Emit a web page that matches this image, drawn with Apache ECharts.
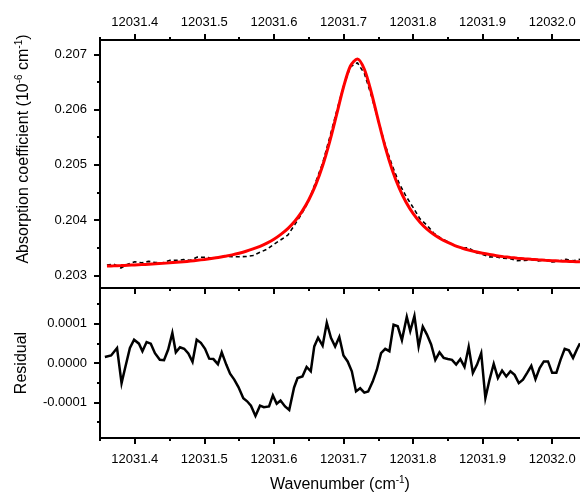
<!DOCTYPE html>
<html>
<head>
<meta charset="utf-8">
<script src="https://cdn.jsdelivr.net/npm/echarts@6/dist/echarts.min.js"></script>
<style>html,body{margin:0;padding:0;background:#fff}#c{width:580px;height:492px}</style>
</head>
<body>
<div id="c"></div>
<script>
// ---- data ----
const wavenumber = [
  12031.36,12031.37,12031.38,12031.39,12031.40,12031.41,12031.42,12031.43,12031.44,12031.45,
  12031.46,12031.47,12031.48,12031.49,12031.50,12031.51,12031.52,12031.53,12031.54,12031.55,
  12031.56,12031.57,12031.58,12031.59,12031.60,12031.61,12031.62,12031.63,12031.64,12031.65,
  12031.66,12031.67,12031.68,12031.69,12031.70,12031.71,12031.72,12031.73,12031.74,12031.75,
  12031.76,12031.77,12031.78,12031.79,12031.80,12031.81,12031.82,12031.83,12031.84,12031.85,
  12031.86,12031.87,12031.88,12031.89,12031.90,12031.91,12031.92,12031.93,12031.94,12031.95,
  12031.96,12031.97,12031.98,12031.99,12032.00,12032.01,12032.02,12032.03,12032.04
];
const fitAbs = [
  0.203167,0.203171,0.203176,0.203182,0.203188,0.203194,0.203201,0.203208,0.203216,0.203225,
  0.203235,0.203246,0.203258,0.203272,0.203287,0.203304,0.203322,0.203345,0.203370,0.203400,
  0.203435,0.203477,0.203524,0.203583,0.203652,0.203740,0.203845,0.203978,0.204148,0.204363,
  0.204637,0.204983,0.205412,0.205904,0.206404,0.206789,0.206917,0.206731,0.206311,0.205805,
  0.205322,0.204912,0.204582,0.204322,0.204120,0.203961,0.203835,0.203738,0.203658,0.203595,
  0.203539,0.203495,0.203456,0.203425,0.203398,0.203375,0.203355,0.203338,0.203323,0.203310,
  0.203299,0.203289,0.203280,0.203272,0.203265,0.203259,0.203254,0.203248,0.203243
];
const measuredAbs = [
  0.203185,0.203199,0.203131,0.203202,0.203245,0.203226,0.203252,0.203230,0.203224,0.203270,
  0.203270,0.203283,0.203271,0.203330,0.203326,0.203314,0.203322,0.203347,0.203337,0.203337,
  0.203339,0.203357,0.203416,0.203472,0.203562,0.203644,0.203727,0.203918,0.204114,0.204348,
  0.204687,0.205027,0.205487,0.205960,0.206423,0.206776,0.206847,0.206656,0.206256,0.205805,
  0.205358,0.204987,0.204667,0.204429,0.204230,0.204021,0.203907,0.203760,0.203673,0.203605,
  0.203539,0.203495,0.203497,0.203415,0.203378,0.203333,0.203330,0.203308,0.203302,0.203265,
  0.203269,0.203282,0.203260,0.203276,0.203240,0.203259,0.203289,0.203261,0.203291
];
const residualX = [
  12031.357,12031.366,12031.3745,12031.381,12031.3855,12031.393,12031.399,12031.406,12031.411,12031.417,
  12031.423,12031.429,12031.436,12031.442,12031.448,12031.454,12031.459,12031.465,12031.471,12031.477,
  12031.483,12031.489,12031.495,12031.501,12031.507,12031.513,12031.5195,12031.525,12031.5315,12031.537,
  12031.543,12031.549,12031.556,12031.5615,12031.567,12031.5735,12031.580,12031.5855,12031.593,12031.5985,
  12031.604,12031.6095,12031.616,12031.622,12031.629,12031.634,12031.641,12031.647,12031.653,12031.658,
  12031.6635,12031.670,12031.676,12031.682,12031.688,12031.694,12031.700,12031.706,12031.712,12031.718,
  12031.724,12031.730,12031.7355,12031.742,12031.748,12031.754,12031.760,12031.766,12031.772,12031.778,
  12031.784,12031.791,12031.796,12031.802,12031.808,12031.814,12031.820,12031.826,12031.832,12031.838,
  12031.844,12031.850,12031.856,12031.862,12031.868,12031.874,12031.880,12031.886,12031.892,12031.898,
  12031.904,12031.910,12031.916,12031.922,12031.928,12031.934,12031.940,12031.946,12031.952,12031.958,
  12031.964,12031.970,12031.976,12031.982,12031.988,12031.994,12032.000,12032.006,12032.012,12032.018,
  12032.024,12032.030,12032.036,12032.040
];
const residual = [
  0.000015,0.000019,0.000038,-0.000051,-0.000017,0.000038,0.000059,0.000049,0.000030,0.000053,
  0.000049,0.000025,0.000008,0.000007,0.000034,0.000076,0.000027,0.000040,0.000036,0.000024,
  0.000003,0.000059,0.000051,0.000036,0.000011,0.000010,-0.000003,0.000027,-0.000004,-0.000027,
  -0.000042,-0.000061,-0.000089,-0.000097,-0.000108,-0.000134,-0.000108,-0.000112,-0.000110,-0.000082,
  -0.000103,-0.000095,-0.000110,-0.000119,-0.000062,-0.000038,-0.000034,-0.000010,-0.000021,0.000042,
  0.000064,0.000044,0.000102,0.000064,0.000042,0.000066,0.000019,0.000004,-0.000021,-0.000072,
  -0.000064,-0.000075,-0.000072,-0.000047,-0.000017,0.000025,0.000036,0.000030,0.000097,0.000093,
  0.000058,0.000117,0.000081,0.000119,0.000042,0.000092,0.000072,0.000047,0.000008,0.000027,
  0.000013,0.000010,0.000008,-0.000004,0.000010,-0.000010,0.000041,-0.000025,-0.000004,0.000025,
  -0.000089,-0.000042,-0.000002,-0.000038,-0.000019,-0.000034,-0.000021,-0.000030,-0.000051,-0.000042,
  -0.000025,-0.000007,-0.000041,-0.000013,0.000004,0.000004,-0.000025,-0.000025,0.000008,0.000036,
  0.000032,0.000013,0.000036,0.000050
];
const xMajorTicks = [12031.4,12031.5,12031.6,12031.7,12031.8,12031.9,12032.0];
const xMinorTicks = [12031.35,12031.45,12031.55,12031.65,12031.75,12031.85,12031.95];
const absMajorTicks = [0.203,0.204,0.205,0.206,0.207];
const absMinorTicks = [0.2035,0.2045,0.2055,0.2065];
const resMajorTicks = [-0.0001,0,0.0001];
const resMinorTicks = [-0.00015,-0.00005,0.00005,0.00015];

// ---- chart ----
const FONT = "'Liberation Sans', Arial, sans-serif";
const X_MIN = 12031.35, X_MAX = 12032.04;
const lineBlack = { show: true, onZero: false, lineStyle: { color: '#000', width: 2 } };

function xAx(grid, pos, ticks, len, withLabels, margin, extra) {
  return Object.assign({
    type: 'value', gridIndex: grid, position: pos, min: X_MIN, max: X_MAX,
    axisLine: lineBlack,
    axisTick: { show: true, inside: false, length: len, customValues: ticks, lineStyle: { color: '#000', width: 2 } },
    axisLabel: withLabels ? { show: true, customValues: ticks, color: '#000', fontSize: 13, fontFamily: FONT, margin: margin,
      formatter: v => Number(v).toFixed(1) } : { show: false },
    splitLine: { show: false }
  }, extra || {});
}
function yAx(grid, min, max, ticks, len, withLabels, dec, extra) {
  return Object.assign({
    type: 'value', gridIndex: grid, position: 'left', min: min, max: max,
    axisLine: lineBlack,
    axisTick: { show: true, inside: false, length: len, customValues: ticks, lineStyle: { color: '#000', width: 2 } },
    axisLabel: withLabels ? { show: true, customValues: ticks, color: '#000', fontSize: 13, fontFamily: FONT, margin: 13,
      formatter: v => Number(v).toFixed(dec) } : { show: false },
    splitLine: { show: false }
  }, extra || {});
}

const titleStyle = {
  color: '#000', fontSize: 16, fontFamily: FONT, lineHeight: 20,
  rich: { sup: { fontSize: 10, fontFamily: FONT, color: '#000', lineHeight: 10, verticalAlign: 'top' } }
};

const chart = echarts.init(document.getElementById('c'), null, { renderer: 'canvas' });
chart.setOption({
  animation: false,
  backgroundColor: '#fff',
  grid: [
    { left: 100, right: 0, top: 40, height: 248, outerBoundsMode: 'none', containLabel: false },
    { left: 100, right: 0, top: 288, height: 150, outerBoundsMode: 'none', containLabel: false }
  ],
  xAxis: [
    xAx(0, 'top', xMajorTicks, 6, true, 11),
    xAx(0, 'top', xMinorTicks, 3, false),
    xAx(0, 'bottom', xMajorTicks, 6, false),
    xAx(0, 'bottom', xMinorTicks, 3, false),
    xAx(1, 'bottom', xMajorTicks, 6, true, 15, {
      name: 'Wavenumber (cm{sup|-1})', nameLocation: 'middle', nameGap: 37, nameTextStyle: titleStyle
    }),
    xAx(1, 'bottom', xMinorTicks, 3, false)
  ],
  yAxis: [
    yAx(0, 0.20277, 0.20726, absMajorTicks, 6, true, 3, {
      name: 'Absorption coefficient (10{sup|-6} cm{sup|-1})', nameLocation: 'middle', nameGap: 66,
      nameTextStyle: Object.assign({}, titleStyle, { padding: [0, 0, 0, 30] })
    }),
    yAx(0, 0.20277, 0.20726, absMinorTicks, 3, false, 3),
    yAx(1, -0.00019, 0.00019, resMajorTicks, 6, true, 4, {
      name: 'Residual', nameLocation: 'middle', nameGap: 64, nameTextStyle: titleStyle
    }),
    yAx(1, -0.00019, 0.00019, resMinorTicks, 3, false, 4)
  ],
  series: [
    {
      name: 'measured', type: 'line', xAxisIndex: 0, yAxisIndex: 0, showSymbol: false, symbol: 'none',
      data: wavenumber.map((x, i) => [x, measuredAbs[i]]),
      lineStyle: { color: '#000', width: 1.6, type: [4, 3] }, z: 2
    },
    {
      name: 'fit', type: 'line', xAxisIndex: 0, yAxisIndex: 0, showSymbol: false, symbol: 'none', smooth: 0.3,
      data: wavenumber.map((x, i) => [x, fitAbs[i]]),
      lineStyle: { color: '#ff0000', width: 3 }, z: 3
    },
    {
      name: 'residual', type: 'line', xAxisIndex: 4, yAxisIndex: 2, showSymbol: false, symbol: 'none',
      data: residualX.map((x, i) => [x, residual[i]]),
      lineStyle: { color: '#000', width: 2.5, join: 'miter' }, z: 2
    }
  ]
});
</script>
</body>
</html>
